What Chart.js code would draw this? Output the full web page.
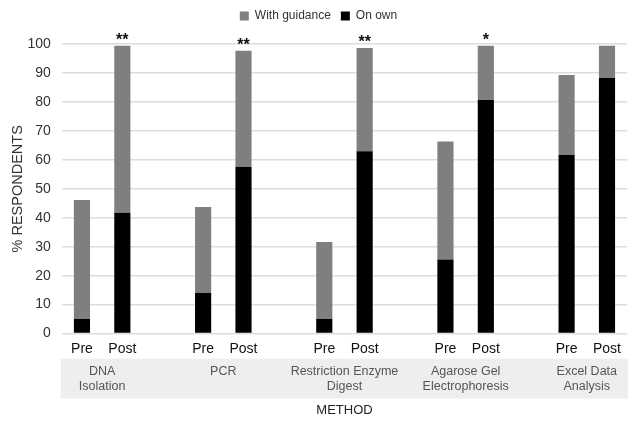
<!DOCTYPE html>
<html><head><meta charset="utf-8">
<script src="https://cdn.jsdelivr.net/npm/chart.js@4/dist/chart.umd.min.js"></script>
<style>html,body{margin:0;padding:0;background:#fff;overflow:hidden}</style>
</head><body>
<canvas id="c" width="628" height="421"></canvas>
<script>
// ---- data ----
const slotLabels = ['Pre','Post','','Pre','Post','','Pre','Post','','Pre','Post','','Pre','Post'];
const onOwn        = [5, 41.7, null, 14, 57.5, null, 5, 63, null, 25.6, 80.7, null, 61.7, 88.3];
const withGuidance = [41.1, 57.7, null, 29.7, 40.2, null, 26.6, 35.6, null, 40.7, 18.7, null, 27.6, 11.1];
const significance = ['', '**', '', '', '**', '', '', '**', '', '', '*', '', '', ''];
const methods = [['DNA','Isolation'], ['PCR'], ['Restriction Enzyme','Digest'], ['Agarose Gel','Electrophoresis'], ['Excel Data','Analysis']];
const yMin = 0, yMax = 100, yStep = 10;

const FONT = '"Liberation Sans", Arial, Helvetica, sans-serif';

const legendMargin = {
  id: 'legendMargin',
  beforeInit(chart) {
    const orig = chart.legend.fit;
    chart.legend.fit = function () {
      orig.call(this);
      this.height += 12;
    };
  }
};

const decorPlugin = {
  id: 'decor',
  afterDraw(chart) {
    const ctx = chart.ctx;
    const x = chart.scales.x;
    const area = chart.chartArea;
    ctx.save();
    // band behind method names
    const bandTop = area.bottom + 25;
    const bandH = 40;
    ctx.fillStyle = '#eeeeee';
    ctx.fillRect(area.left - 1, bandTop, chart.width - area.left + 1, bandH);
    // method names
    ctx.fillStyle = '#555555';
    ctx.font = '12.5px ' + FONT;
    ctx.textAlign = 'center';
    ctx.textBaseline = 'middle';
    methods.forEach((lines, i) => {
      const cx = (x.getPixelForValue(3 * i) + x.getPixelForValue(3 * i + 1)) / 2;
      lines.forEach((ln, j) => {
        ctx.fillText(ln, cx, bandTop + 13 + j * 15);
      });
    });
    // significance stars
    const metaTop = chart.getDatasetMeta(1);
    ctx.fillStyle = '#111111';
    ctx.font = 'bold 16px ' + FONT;
    ctx.textBaseline = 'middle';
    significance.forEach((s, i) => {
      if (!s) return;
      const el = metaTop.data[i];
      ctx.fillText(s, el.x, el.y - 5);
    });
    ctx.restore();
  }
};

new Chart(document.getElementById('c'), {
  type: 'bar',
  data: {
    labels: slotLabels,
    datasets: [
      { label: 'On own', data: onOwn, backgroundColor: '#000000', borderWidth: 0 },
      { label: 'With guidance', data: withGuidance, backgroundColor: '#7f7f7f', borderWidth: 0 }
    ]
  },
  options: {
    responsive: false,
    animation: false,
    devicePixelRatio: 1,
    layout: { padding: { left: 9, right: 0, top: 0, bottom: 3 } },
    datasets: { bar: { categoryPercentage: 1.0, barPercentage: 0.4 } },
    plugins: {
      legend: {
        reverse: true,
        labels: { boxWidth: 9, boxHeight: 9, font: { family: FONT, size: 12 }, color: '#333', padding: 10 }
      },
      tooltip: { enabled: false }
    },
    scales: {
      x: {
        stacked: true,
        grid: { display: false, drawTicks: false },
        border: { display: false },
        ticks: { font: { family: FONT, size: 14 }, color: '#111', padding: 7, autoSkip: false, maxRotation: 0 },
        title: { display: true, text: 'METHOD', font: { family: FONT, size: 13 }, color: '#222', padding: { top: 38, bottom: 0 } }
      },
      y: {
        stacked: true,
        min: yMin, max: yMax,
        grid: { color: '#dddddd', lineWidth: 1.5, drawTicks: false },
        border: { display: false },
        ticks: { stepSize: yStep, font: { family: FONT, size: 14 }, color: '#333', padding: 11 },
        title: { display: true, text: '% RESPONDENTS', font: { family: FONT, size: 14.5 }, color: '#333', padding: { top: 0, bottom: -10 } }
      }
    }
  },
  plugins: [legendMargin, decorPlugin]
});
</script>
</body></html>
